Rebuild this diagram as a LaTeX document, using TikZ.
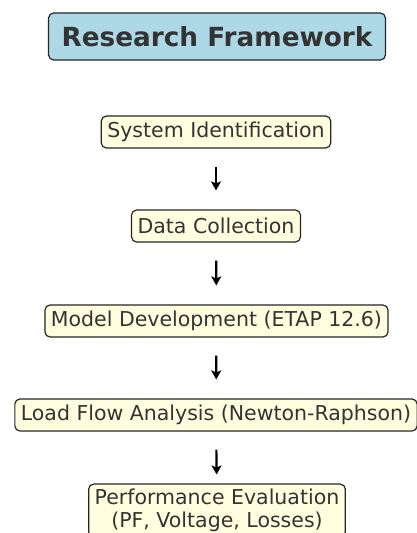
\documentclass[tikz,border=0pt]{standalone}
\usepackage{fontspec}
\setmainfont{DejaVu Sans}
\usepackage{tikz}
\usetikzlibrary{arrows.meta,positioning}
\definecolor{txtgray}{HTML}{333333}
\definecolor{boxfill}{HTML}{FFFFE0}
\definecolor{headfill}{HTML}{ADD8E6}

\begin{document}
\begin{tikzpicture}[
  x=1pt, y=1pt,
  box/.style={draw=black!85, line width=1.2pt, rounded corners=5pt, fill=boxfill,
    text=txtgray, font=\fontsize{20.5}{23}\selectfont, align=center,
    inner xsep=6pt, inner ysep=3pt, minimum height=32pt},
  head/.style={box, fill=headfill, font=\fontsize{26.3}{30}\bfseries,
    inner xsep=13pt, minimum height=47pt},
  arr/.style={-{Stealth[length=9pt,width=10pt,inset=2pt]}, line width=2.2pt, shorten <=18pt, shorten >=19pt}
]
\useasboundingbox (0,0) rectangle (416,-533);
\fill[white] (0,0) rectangle (416,-533);

\node[head] (title) at (217,-36.5) {Research Framework};

\node[box] (ident) at (216,-132) {System Identification};
\node[box] (data) at (216,-226) {Data Collection};
\node[box] (model) at (216.5,-321) {Model Development (ETAP 12.6)};
\node[box] (flow) at (216,-415) {Load Flow Analysis (Newton-Raphson)};
\node[box, inner ysep=5pt] (eval) at (217,-510.5) {Performance Evaluation\\(PF, Voltage, Losses)};

\draw[arr] (ident) -- (data);
\draw[arr] (data) -- (model);
\draw[arr] (model) -- (flow);
\draw[arr, shorten >=9pt] (flow) -- (eval);
\end{tikzpicture}
\end{document}
